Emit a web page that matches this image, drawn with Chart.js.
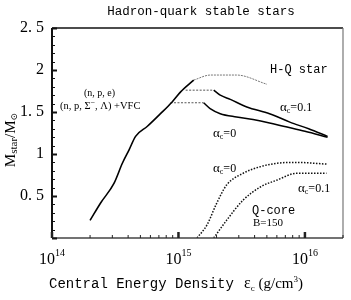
<!DOCTYPE html>
<html>
<head>
<meta charset="utf-8">
<script src="https://cdn.jsdelivr.net/npm/chart.js@4.4.1/dist/chart.umd.min.js"></script>
<style>
	body { margin: 0; background: #fff; }
	#wrap { width: 351px; height: 300px; }
</style>
</head>
<body>
<div id="wrap"><canvas id="hqChart" width="351" height="300"></canvas></div>
<script>
// central energy density (g/cm^3) and star mass (M_sun)
const hadronX = [2.0e14, 2.43e14, 3.09e14, 3.6e14, 4.07e14, 4.58e14, 5.68e14, 7.21e14, 8.91e14, 1.04e15, 1.32e15];
const hadronY = [0.21, 0.42, 0.65, 0.89, 1.05, 1.21, 1.33, 1.48, 1.62, 1.74, 1.88];

const npeX = [1.32e15, 1.79e15, 2.88e15, 5.01e15];
const npeY = [1.88, 1.94, 1.94, 1.83];

const link0X = [8.65e14, 1.58e15];
const link0Y = [1.61, 1.61];
const link1X = [1.14e15, 1.9e15];
const link1Y = [1.76, 1.76];

const hq0X = [1.58e15, 1.78e15, 2.14e15, 2.88e15, 3.89e15, 5.25e15, 6.76e15, 1.0e16, 1.51e16];
const hq0Y = [1.61, 1.54, 1.48, 1.44, 1.41, 1.37, 1.33, 1.27, 1.2];

const hq1X = [1.9e15, 2.14e15, 2.57e15, 3.47e15, 5.25e15, 7.59e15, 1.07e16, 1.51e16];
const hq1Y = [1.76, 1.7, 1.65, 1.56, 1.48, 1.38, 1.3, 1.21];

const core0X = [1.4e15, 1.68e15, 2.0e15, 2.4e15, 3.24e15, 4.47e15, 6.03e15, 8.61e15, 1.48e16];
const core0Y = [0, 0.155, 0.41, 0.63, 0.77, 0.85, 0.89, 0.9, 0.88];

const core1X = [1.9e15, 2.4e15, 3.24e15, 4.47e15, 6.03e15, 8.61e15, 1.48e16];
const core1Y = [0, 0.21, 0.45, 0.61, 0.69, 0.77, 0.77];

const xTickValues = [1e14, 1e15, 1e16];
const xTickExponents = ["14", "15", "16"];
const yTickValues = [0.5, 1, 1.5, 2, 2.5];
const yTickLabels = ["0. 5", "1", "1. 5", "2", "2. 5"];

function pts(xs, ys) {
	return xs.map((x, i) => ({ x: x, y: ys[i] }));
}

function line(xs, ys, color, width, dash) {
	return {
		data: pts(xs, ys),
		borderColor: color,
		borderWidth: width,
		borderDash: dash,
		pointRadius: 0,
		tension: 0.4,
		cubicInterpolationMode: "monotone",
		fill: false,
	};
}

const SERIF = "'Liberation Serif', 'DejaVu Serif', serif";
const MONO = "'Liberation Mono', 'DejaVu Sans Mono', monospace";

// rich text helper: parts = [[text, font, dy], ...]
function rich(ctx, parts, x, y) {
	let cx = x;
	parts.forEach((p) => {
		ctx.font = p[1];
		ctx.fillText(p[0], cx, y + (p[2] || 0));
		cx += ctx.measureText(p[0]).width;
	});
}

function alpha(ctx, val, x, y) {
	rich(ctx, [
		["α", "13px " + SERIF, 0],
		["c", "8px " + SERIF, 2],
		["=" + val, "12px " + SERIF, 0],
	], x, y);
}

const decorPlugin = {
	id: "decor",
	afterDraw(chart) {
		const ctx = chart.ctx;
		const a = chart.chartArea;
		const xs = chart.scales.x;
		const ys = chart.scales.y;
		ctx.save();

		// frame
		ctx.strokeStyle = "#111";
		ctx.lineWidth = 1.5;
		ctx.beginPath();
		ctx.moveTo(a.left, a.top);
		ctx.lineTo(a.right, a.top);
		ctx.stroke();
		ctx.strokeStyle = "#777";
		ctx.lineWidth = 1.2;
		ctx.beginPath();
		ctx.moveTo(a.right, a.top);
		ctx.lineTo(a.right, a.bottom);
		ctx.stroke();
		ctx.strokeStyle = "#444";
		ctx.lineWidth = 1.5;
		ctx.beginPath();
		ctx.moveTo(a.left, a.bottom);
		ctx.lineTo(a.right, a.bottom);
		ctx.stroke();
		ctx.strokeStyle = "#111";
		ctx.lineWidth = 2;
		ctx.beginPath();
		ctx.moveTo(a.left, a.top);
		ctx.lineTo(a.left, a.bottom);
		ctx.stroke();

		// y ticks (inward)
		for (let i = 0; i <= 25; i++) {
			const py = Math.round(ys.getPixelForValue(i / 10)) + 0.5;
			const major = i % 5 === 0;
			ctx.lineWidth = major ? 2 : 1;
			ctx.beginPath();
			ctx.moveTo(a.left, py);
			ctx.lineTo(a.left + (major ? 5 : 3), py);
			ctx.stroke();
		}

		// x ticks (inward, log)
		ctx.strokeStyle = "#222";
		for (let d = 14; d <= 16; d++) {
			for (let k = 1; k <= 9; k++) {
				const v = k * Math.pow(10, d);
				if (v > xs.max) continue;
				const px = xs.getPixelForValue(v);
				const major = k === 1;
				ctx.lineWidth = major ? 2.5 : 1;
				ctx.beginPath();
				ctx.moveTo(px, a.bottom);
				ctx.lineTo(px, a.bottom - (major ? 6 : 3));
				ctx.stroke();
			}
		}

		ctx.fillStyle = "#000";
		ctx.textBaseline = "alphabetic";

		// x tick labels 10^n
		xTickValues.forEach((v, i) => {
			const px = xs.getPixelForValue(v);
			ctx.font = "16px " + SERIF;
			const w1 = ctx.measureText("10").width;
			ctx.font = "10px " + SERIF;
			const w2 = ctx.measureText(xTickExponents[i]).width;
			const x0 = px - (w1 + w2) / 2;
			rich(ctx, [
				["10", "16px " + SERIF, 0],
				[xTickExponents[i], "10px " + SERIF, -8],
			], x0, 264);
		});

		// title
		ctx.font = "12.5px " + MONO;
		ctx.textAlign = "center";
		ctx.fillText("Hadron-quark stable stars", 201, 15);
		ctx.textAlign = "left";

		// x axis title
		ctx.font = "14px " + MONO;
		ctx.fillText("Central Energy Density", 49, 288);
		rich(ctx, [
			["ε", "16px " + SERIF, 0],
			["c", "9px " + SERIF, 3],
			[" (g/cm", "15px " + SERIF, 0],
			["3", "9px " + SERIF, -6],
			[")", "15px " + SERIF, 0],
		], 244, 288);

		// y axis title
		ctx.save();
		ctx.translate(15, 140);
		ctx.rotate(-Math.PI / 2);
		ctx.font = "15px " + SERIF;
		const t1 = ctx.measureText("M").width;
		ctx.font = "11px " + SERIF;
		const t2 = ctx.measureText("star").width;
		ctx.font = "15px " + SERIF;
		const t3 = ctx.measureText("/M").width;
		ctx.font = "9px " + SERIF;
		const t4 = ctx.measureText("⊙").width;
		rich(ctx, [
			["M", "15px " + SERIF, 0],
			["star", "11px " + SERIF, 2],
			["/M", "15px " + SERIF, 0],
			["⊙", "9px " + SERIF, 2],
		], -(t1 + t2 + t3 + t4) / 2, 0);
		ctx.restore();

		// annotations
		ctx.font = "12px " + MONO;
		ctx.fillText("H-Q star", 270, 73);
		ctx.font = "10px " + SERIF;
		ctx.fillText("(n, p, e)", 84, 96);
		rich(ctx, [
			["(n, p, Σ", "10.5px " + SERIF, 0],
			["−", "8px " + SERIF, -4],
			[", Λ) +VFC", "10.5px " + SERIF, 0],
		], 60, 109);
		alpha(ctx, "0.1", 280, 111);
		alpha(ctx, "0", 213, 137);
		alpha(ctx, "0", 213, 172);
		alpha(ctx, "0.1", 298, 192);
		ctx.font = "12px " + MONO;
		ctx.fillText("Q-core", 252, 214);
		ctx.font = "11px " + SERIF;
		ctx.fillText("B=150", 253, 226);

		ctx.restore();
	},
};

const ctx = document.getElementById("hqChart");

const config = {
	type: "line",
	data: {
		datasets: [
			line(hadronX, hadronY, "#000", 1.6, []),
			line(npeX, npeY, "#777", 1, [2, 1]),
			line(link0X, link0Y, "#555", 1, [2, 1.5]),
			line(link1X, link1Y, "#555", 1, [2, 1.5]),
			line(hq0X, hq0Y, "#000", 1.5, []),
			line(hq1X, hq1Y, "#000", 1.5, []),
			line(core0X, core0Y, "#111", 1.5, [1.5, 1.5]),
			line(core1X, core1Y, "#111", 1.5, [1.5, 1.5]),
		],
	},
	options: {
		responsive: false,
		animation: false,
		layout: { padding: { top: 28, right: 8, left: 0, bottom: 0 } },
		plugins: {
			legend: { display: false },
			tooltip: { enabled: false },
		},
		scales: {
			x: {
				type: "logarithmic",
				min: 1e14,
				max: 2e16,
				grid: { display: false },
				border: { display: false },
				ticks: { display: false },
				afterFit: (scale) => {
					scale.height = 62;
				},
			},
			y: {
				type: "linear",
				min: 0,
				max: 2.5,
				grid: { display: false, drawTicks: false },
				border: { display: false },
				afterBuildTicks: (scale) => {
					scale.ticks = yTickValues.map((v) => ({ value: v }));
				},
				ticks: {
					padding: 8,
					color: "#000",
					font: { family: SERIF, size: 16 },
					callback: (value) => yTickLabels[yTickValues.indexOf(value)],
				},
				afterFit: (scale) => {
					scale.width = 52;
				},
			},
		},
	},
	plugins: [decorPlugin],
};

const chart = new Chart(ctx, config);
</script>
</body>
</html>
